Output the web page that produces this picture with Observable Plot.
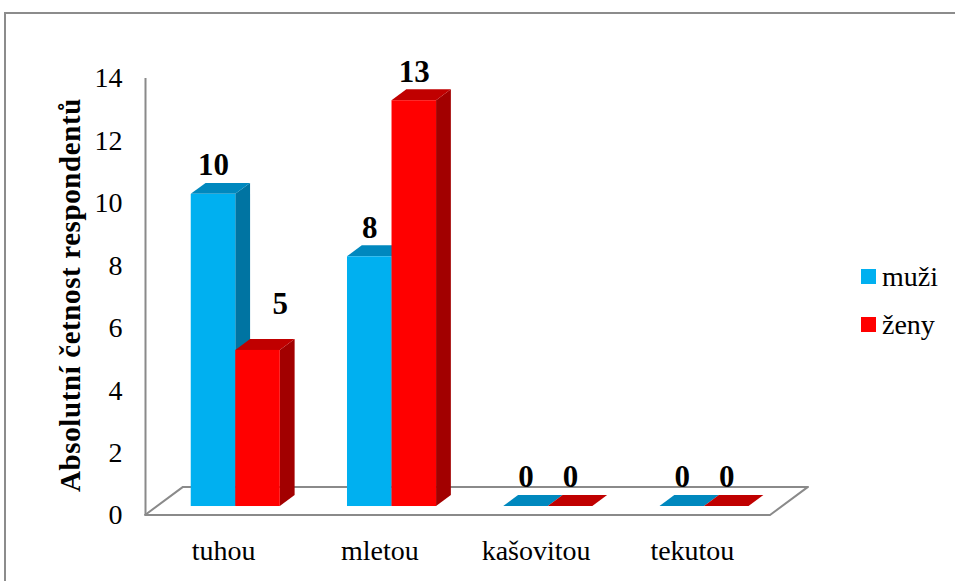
<!DOCTYPE html>
<html>
<head>
<meta charset="utf-8">
<script src="https://cdn.jsdelivr.net/npm/d3@7"></script>
<script src="https://cdn.jsdelivr.net/npm/@observablehq/plot@0.6"></script>
<style>
  html, body { margin: 0; padding: 0; background: #fff; overflow: hidden; }
  #wrap { position: relative; width: 955px; height: 581px; overflow: hidden; font-family: 'Liberation Serif', serif; }
  #frame { position: absolute; left: 4px; top: 12px; width: 1000px; height: 1000px; border: 2px solid #8c8c8c; box-sizing: border-box; pointer-events: none; }
  #legend { position: absolute; left: 861px; top: 253px; font-size: 28px; color: #000; font-family: 'Liberation Serif', serif; }
  #legend .item { display: flex; align-items: center; height: 48px; }
  #legend .sw { width: 15px; height: 15px; margin-right: 6px; margin-top: -2px; }
  #chart { position: absolute; left: 0; top: 0; }
  #chart svg text { font-family: 'Liberation Serif', serif; }
</style>
</head>
<body>
<div id="wrap">
  <div id="chart"></div>
  <div id="frame"></div>
  <div id="legend"></div>
</div>
<script>
// Consistency of stool, answers split by gender
const categories = ["tuhou", "mletou", "kašovitou", "tekutou"];
const muzi = [10, 8, 0, 0];
const zeny = [5, 13, 0, 0];
const seriesNames = ["muži", "ženy"];
const yTicks = [0, 2, 4, 6, 8, 10, 12, 14];
const yTitle = "Absolutní četnost respondentů";

const FONT = "'Liberation Serif', serif";

// colours: front, top, side faces
const palette = {
  "muži": {front: "#00B0F0", top: "#0088BE", side: "#0074A2"},
  "ženy": {front: "#FF0000", top: "#C00000", side: "#A20000"}
};

// 3D geometry in data units: floor depth and bar slab position within it
const DX = 0.243, DY = 0.9;   // back edge of the floor relative to the front
const D0 = 0.32, D1 = 0.71;   // bar front / back depth (fraction of floor)
const BW = 0.285;             // bar width per series

function barsOf(values, name, side) {
  return values.map((v, i) => {
    const xl = side < 0 ? i - BW : i;
    return {i, v, name, xl, xr: xl + BW};
  });
}
const series = [barsOf(muzi, seriesNames[0], -1), barsOf(zeny, seriesNames[1], +1)];

function faceMarks(bars) {
  const c = palette[bars[0].name];
  const side = bars.flatMap(b => [
    {k: b.i, x: b.xr + D0 * DX, y1: D0 * DY, y2: b.v + D0 * DY},
    {k: b.i, x: b.xr + D1 * DX, y1: D1 * DY, y2: b.v + D1 * DY}
  ]);
  const top = bars.flatMap(b => [
    {k: b.i, y: b.v + D0 * DY, x1: b.xl + D0 * DX, x2: b.xr + D0 * DX},
    {k: b.i, y: b.v + D1 * DY, x1: b.xl + D1 * DX, x2: b.xr + D1 * DX}
  ]);
  return [
    Plot.areaY(side, {x: "x", y1: "y1", y2: "y2", z: "k", fill: c.side}),
    Plot.areaX(top, {y: "y", x1: "x1", x2: "x2", z: "k", fill: c.top}),
    Plot.rect(bars.filter(b => b.v > 0), {
      x1: b => b.xl + D0 * DX, x2: b => b.xr + D0 * DX,
      y1: () => D0 * DY, y2: b => b.v + D0 * DY, fill: c.front
    })
  ];
}

// value labels above each bar; a right-hand label moves aside when the
// neighbouring bar is taller
const labels = series.flatMap((bars, s) => bars.map(b => {
  const other = series[1 - s][b.i].v;
  const shifted = s === 1 && other > b.v;
  return {
    text: String(b.v),
    x: (b.xl + b.xr) / 2 + D0 * DX + (shifted ? BW / 2 : 0),
    y: b.v + D1 * DY,
    lift: shifted ? 35 : 18
  };
}));

const floor = [
  {y: 0, x1: -0.5, x2: 3.5},
  {y: DY, x1: -0.5 + DX, x2: 3.5 + DX}
];

const chart = Plot.plot({
  width: 955,
  height: 581,
  marginLeft: 145,
  marginRight: 185,
  marginTop: 78,
  marginBottom: 66,
  style: {fontFamily: FONT, fontSize: "28px", color: "#000", background: "transparent"},
  x: {domain: [-0.5, 3.5], axis: null},
  y: {domain: [0, 14], ticks: yTicks, tickSize: 0, tickPadding: 23, label: null},
  marks: [
    Plot.areaX(floor, {y: "y", x1: "x1", x2: "x2", fill: "white", stroke: "#8a8a8a", strokeWidth: 2}),
    Plot.ruleX([-0.5], {y1: () => 0, y2: () => 14, stroke: "#8a8a8a", strokeWidth: 2}),
    ...series.flatMap(faceMarks),
    Plot.text(labels, {x: "x", y: "y", text: "text", fontFamily: FONT, fontSize: 31, fontWeight: "bold", fill: "#000"}),
    Plot.text(categories, {x: (d, i) => i, y: () => 0, text: d => d, dy: 36, fontFamily: FONT, fontSize: 28, fill: "#000"}),
    Plot.text([yTitle], {frameAnchor: "left", dx: -75, dy: -2, rotate: -90, textAnchor: "middle", fontFamily: FONT, fontSize: 29, fontWeight: "bold", fill: "#000"})
  ]
});
document.getElementById("chart").appendChild(chart);

const textGroups = chart.querySelectorAll("g[aria-label='text']");

// lift the value labels above their bars (pixel offsets per label)
if (textGroups[0]) {
  textGroups[0].querySelectorAll("text").forEach((t, i) => {
    const tr = t.getAttribute("transform") || "";
    t.setAttribute("transform", tr + ` translate(0,${-labels[i].lift})`);
  });
}
// slightly looser tracking for the vertical axis title
if (textGroups[2]) {
  textGroups[2].querySelectorAll("text").forEach(t => t.style.letterSpacing = "0.6px");
}

// legend
const legend = d3.select("#legend");
seriesNames.forEach(n => {
  const item = legend.append("div").attr("class", "item");
  item.append("div").attr("class", "sw").style("background", palette[n].front);
  item.append("span").text(n);
});
</script>
</body>
</html>
